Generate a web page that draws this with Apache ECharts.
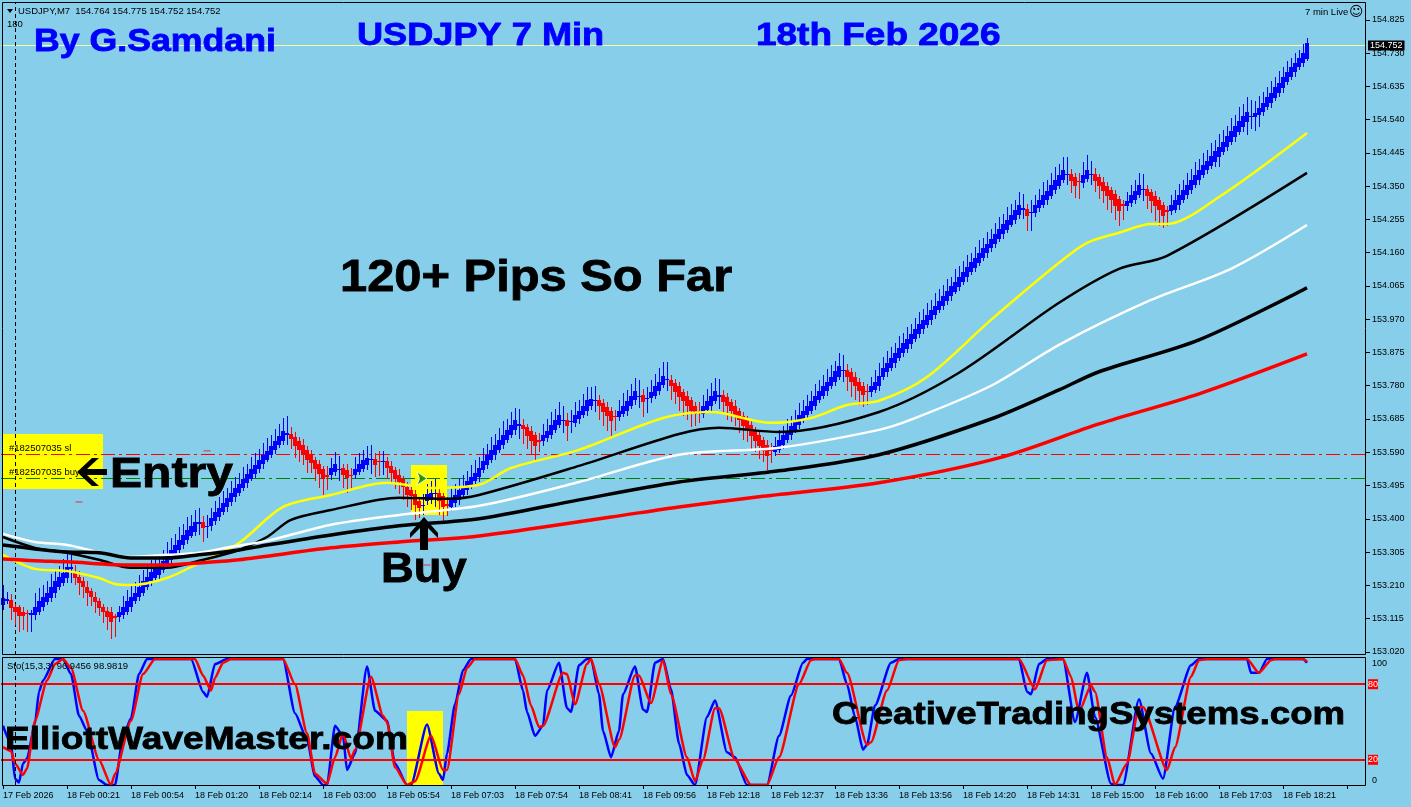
<!DOCTYPE html>
<html>
  <head>
    <meta charset="utf-8">
    <title>USDJPY 7 Min</title>
    <style type="text/css">
    html,body{margin:0;padding:0;background:#87CEEB;}
    #chart{width:1411px;height:807px;}
    </style>
    <script src="https://cdn.jsdelivr.net/npm/echarts@6/dist/echarts.min.js"></script>
  </head>
  <body>
    <div id="chart"></div>
    <script type="text/javascript">
    // all prices below are points above 153.000 (1752 = 154.752)
    var opens = [
      154,166,168,149,149,135,130,125,126,135,
      149,161,173,187,205,218,230,257,246,233,
      221,206,195,178,164,149,137,135,121,119,
      126,135,149,164,176,189,205,221,230,240,
      254,268,283,297,311,325,339,352,362,386,
      390,376,380,393,406,420,433,447,461,474,
      488,501,515,529,542,556,569,583,597,610,
      622,640,643,635,623,611,597,583,569,557,
      542,526,526,535,538,545,538,525,526,535,
      542,554,569,571,565,562,564,551,538,526,
      513,492,483,471,450,436,452,455,470,473,
      464,443,435,445,454,469,481,494,507,519,
      540,554,568,583,597,611,625,640,654,666,
      668,662,652,640,625,621,630,640,654,668,
      680,683,676,673,684,697,709,722,736,740,
      730,719,709,694,690,700,709,723,738,749,
      754,741,744,751,766,781,795,797,789,778,
      763,751,738,723,709,700,711,723,737,749,
      754,747,733,723,709,694,683,668,654,640,
      625,611,597,592,597,611,625,640,654,668,
      683,697,709,723,738,751,766,778,792,806,
      821,825,818,804,792,778,765,761,768,778,
      804,818,832,845,859,873,886,900,913,927,
      941,954,968,981,995,1009,1022,1036,1049,1063,
      1077,1090,1104,1117,1131,1145,1158,1172,1185,1199,
      1213,1226,1240,1253,1267,1283,1284,1273,1274,1287,
      1296,1310,1322,1339,1350,1368,1382,1385,1377,1364,
      1360,1371,1382,1385,1375,1363,1350,1339,1328,1313,
      1299,1293,1301,1310,1325,1338,1341,1332,1322,1310,
      1296,1281,1280,1282,1296,1310,1325,1339,1353,1368,
      1382,1396,1408,1420,1434,1448,1463,1477,1491,1506,
      1518,1534,1548,1547,1553,1563,1577,1588,1601,1615,
      1629,1648,1663,1677,1689,1701,1714
    ];
    var closes = [
      173,170,145,135,121,123,127,132,149,164,
      176,189,205,221,233,246,262,261,230,216,
      205,189,176,161,145,135,119,106,116,135,
      149,164,178,189,205,221,235,248,259,266,
      280,297,311,325,339,354,368,380,390,390,
      373,380,403,419,432,446,459,473,487,500,
      514,527,541,555,568,582,595,609,623,636,
      650,644,628,609,597,583,569,559,542,529,
      513,519,545,556,542,526,516,521,543,557,
      567,573,572,554,562,565,545,532,513,504,
      491,469,464,440,431,440,470,473,473,450,
      435,437,456,469,483,494,507,519,532,545,
      566,583,597,611,625,640,654,668,683,670,
      657,637,623,608,620,640,652,668,683,697,
      683,665,680,697,709,723,738,743,740,721,
      706,694,680,690,709,723,737,751,765,752,
      735,745,763,778,792,808,799,778,763,749,
      737,723,709,700,704,723,737,751,765,754,
      733,721,709,694,681,666,654,637,623,608,
      595,580,593,609,625,640,652,665,683,697,
      709,723,737,751,765,778,792,806,822,837,
      825,806,792,778,766,754,762,778,792,808,
      832,846,860,873,887,901,914,928,941,955,
      969,982,996,1009,1023,1037,1050,1064,1077,1091,
      1105,1118,1132,1145,1159,1173,1186,1200,1213,1227,
      1241,1254,1268,1281,1295,1287,1265,1276,1296,1310,
      1325,1337,1353,1368,1382,1396,1385,1366,1350,1361,
      1382,1396,1385,1366,1350,1337,1323,1310,1294,1280,
      1293,1308,1325,1337,1353,1341,1323,1308,1294,1282,
      1266,1277,1296,1310,1325,1339,1353,1368,1382,1396,
      1410,1423,1436,1451,1463,1477,1493,1508,1522,1537,
      1550,1561,1550,1558,1572,1588,1604,1617,1632,1646,
      1663,1677,1689,1703,1715,1729,1760
    ];
    // wick length above / below the body
    var upperWicks = [
      38,20,17,8,5,14,10,8,38,38,
      36,34,36,35,33,38,40,45,22,18,
      12,15,8,14,10,8,10,12,8,15,
      30,32,30,30,34,32,30,34,32,30,
      32,36,34,32,38,30,36,32,36,40,
      18,30,28,32,30,34,30,36,32,30,
      34,30,36,32,30,34,36,30,34,36,
      38,50,20,14,12,16,10,14,8,12,
      10,25,30,34,36,12,18,20,34,32,
      30,36,40,16,28,30,12,14,10,16,
      10,12,8,10,8,30,30,34,40,14,
      10,20,32,30,34,32,30,34,36,32,
      36,32,36,30,34,38,32,36,34,44,
      16,10,12,8,20,30,34,36,32,38,
      40,18,30,36,30,34,38,32,40,14,
      12,16,10,18,30,36,32,34,38,44,
      16,30,32,36,38,40,50,14,10,12,
      8,14,10,12,25,30,34,36,38,44,
      14,12,10,16,8,12,10,14,8,12,
      10,14,20,25,30,26,32,30,28,34,
      30,32,28,34,30,32,36,34,30,36,
      44,18,12,14,10,12,20,26,32,36,
      30,34,32,28,36,30,34,28,32,36,
      30,34,28,36,32,30,34,28,36,32,
      30,34,28,32,36,30,34,28,32,36,
      30,36,32,30,38,40,16,34,30,32,
      36,30,34,38,32,36,48,14,12,24,
      38,42,36,16,10,14,12,8,12,10,
      12,24,28,32,34,44,12,10,14,8,
      10,12,28,30,32,28,34,30,36,32,
      34,30,38,32,36,34,30,36,32,38,
      34,44,46,34,36,32,28,34,30,32,
      28,30,26,28,24,26,14
    ];
    var lowerWicks = [
      15,10,34,38,45,40,50,48,14,10,
      12,8,10,12,8,10,14,40,20,34,
      32,38,26,30,24,34,36,50,54,14,
      12,10,14,8,12,10,8,12,10,14,
      10,12,8,10,14,10,12,8,10,32,
      40,30,14,10,12,8,14,10,12,8,
      10,14,8,12,10,14,8,10,12,8,
      10,30,30,34,36,30,38,28,34,40,
      46,36,14,12,30,38,42,40,12,10,
      8,14,40,36,40,38,30,34,28,32,
      36,34,40,44,30,26,14,12,36,40,
      46,30,12,10,14,8,12,10,8,14,
      10,12,8,14,10,12,8,10,14,38,
      44,38,42,40,30,14,10,12,8,10,
      34,44,30,10,12,8,14,10,30,40,
      42,44,48,38,12,10,14,8,12,32,
      44,40,14,10,12,8,30,40,36,42,
      44,40,46,34,30,12,10,14,8,36,
      34,38,32,30,36,40,34,38,32,36,
      34,40,34,14,10,12,8,14,10,12,
      8,14,10,12,8,10,14,8,12,10,
      30,40,44,38,42,34,36,12,10,14,
      8,12,10,14,8,10,12,14,8,10,
      12,8,14,10,8,12,10,14,8,12,
      10,14,8,12,10,8,14,10,12,8,
      14,10,8,12,10,26,42,50,12,10,
      8,14,10,12,8,10,30,36,34,48,
      14,10,30,34,38,36,40,36,42,44,
      40,14,10,12,8,30,38,36,44,46,
      36,40,12,10,14,8,12,10,8,14,
      10,12,8,14,30,10,12,8,14,10,
      12,38,36,40,34,12,10,14,8,10,
      12,8,10,14,8,10,6
    ];

    // moving averages, [bar, points]
    var yellowMa = [[0,297],[8,257],[16,251],[24,231],[28,214],[32,211],[41,231],[49,274],[59,331],[70,434],[82,468],[96,503],[107,488],[119,497],[127,545],[144,597],[165,688],[177,705],[192,674],[202,688],[211,725],[219,737],[231,805],[247,968],[264,1131],[271,1188],[279,1217],[287,1242],[291,1242],[304,1319],[326,1502]];
    var thinBlackMa = [[0,348],[8,317],[16,303],[24,283],[32,260],[41,260],[49,280],[59,311],[66,348],[72,397],[82,425],[99,460],[111,457],[119,468],[144,551],[169,642],[179,660],[194,648],[219,705],[239,817],[264,1017],[279,1114],[291,1151],[326,1388]];
    var whiteMa = [[0,357],[8,334],[16,325],[24,305],[32,291],[41,297],[49,303],[57,320],[66,337],[82,383],[99,411],[119,437],[144,505],[169,583],[194,603],[219,654],[227,683],[247,780],[264,897],[287,1025],[307,1114],[326,1239]];
    var thickBlackMa = [[0,325],[8,314],[16,305],[24,303],[32,288],[41,288],[49,297],[59,311],[66,325],[82,354],[99,380],[119,400],[144,454],[169,505],[194,537],[219,583],[247,685],[264,768],[274,820],[299,911],[326,1060]];
    var redMa = [[0,285],[8,280],[16,277],[32,268],[41,268],[49,274],[59,283],[82,317],[99,334],[119,351],[152,405],[169,434],[189,463],[219,503],[249,574],[274,671],[299,757],[326,871]];

    // stochastic, [bar, value]
    var stochMain = [[0,47],[2,33],[3,5],[4,2],[5,17],[6,21],[8,49],[9,74],[10,83],[13,100],[15,100],[17,88],[19,55],[21,43],[24,4],[26,0],[28,0],[30,38],[32,53],[34,88],[36,100],[47,100],[50,74],[51,70],[53,96],[56,100],[70,100],[73,57],[76,36],[78,7],[80,0],[81,0],[83,47],[85,39],[86,12],[88,25],[91,94],[93,59],[96,51],[98,17],[101,0],[102,0],[106,48],[109,9],[110,4],[111,25],[113,64],[115,91],[117,100],[128,100],[130,75],[131,58],[133,39],[135,47],[136,75],[139,97],[141,61],[142,58],[144,95],[146,100],[147,100],[149,72],[150,43],[152,22],[154,43],[155,72],[158,94],[160,60],[161,58],[163,97],[165,100],[167,76],[169,33],[171,8],[173,0],[176,54],[178,67],[181,26],[183,22],[186,0],[191,0],[194,39],[197,71],[200,97],[201,100],[209,100],[211,80],[213,54],[215,28],[216,32],[218,63],[222,97],[224,100],[254,100],[256,74],[257,72],[259,96],[261,100],[265,100],[268,50],[271,89],[273,54],[277,1],[278,0],[280,0],[284,68],[287,25],[290,5],[293,62],[297,95],[299,100],[311,100],[312,89],[314,89],[316,100],[325,100],[326,97]];
    var stochSignal = [[0,30],[2,27],[3,17],[5,8],[6,13],[8,51],[11,83],[13,96],[15,100],[17,93],[20,59],[24,20],[27,0],[28,9],[32,51],[35,88],[38,100],[48,100],[50,87],[52,75],[53,85],[55,97],[57,100],[70,100],[73,80],[76,41],[78,9],[81,1],[83,22],[85,41],[87,21],[88,28],[92,86],[95,55],[96,50],[98,14],[101,0],[103,3],[107,39],[110,12],[111,12],[114,72],[116,93],[118,100],[128,100],[130,87],[132,63],[134,46],[135,47],[140,89],[141,88],[143,64],[146,96],[147,100],[149,80],[153,30],[154,36],[158,87],[159,87],[162,65],[165,99],[167,72],[171,22],[173,3],[175,20],[178,61],[179,61],[183,20],[187,0],[191,0],[194,22],[199,80],[202,99],[203,100],[209,100],[211,89],[216,32],[217,34],[221,75],[224,99],[226,100],[254,100],[258,76],[261,99],[265,100],[267,86],[269,58],[272,79],[273,74],[276,22],[278,0],[281,17],[284,62],[285,62],[291,12],[293,30],[297,86],[299,99],[301,100],[311,100],[314,89],[317,99],[318,100],[325,100],[326,98]];

    var priceTicks = [154.825,154.73,154.635,154.54,154.445,154.35,154.255,154.16,154.065,153.97,153.875,153.78,153.685,153.59,153.495,153.4,153.305,153.21,153.115,153.02];
    var timeLabels = ['17 Feb 2026','18 Feb 00:21','18 Feb 00:54','18 Feb 01:20','18 Feb 02:14','18 Feb 03:00','18 Feb 05:54','18 Feb 07:03','18 Feb 07:54','18 Feb 08:41','18 Feb 09:56','18 Feb 12:18','18 Feb 12:37','18 Feb 13:36','18 Feb 13:56','18 Feb 14:20','18 Feb 14:31','18 Feb 15:00','18 Feb 16:00','18 Feb 17:03','18 Feb 18:21'];
    var stopMarks = [[19,448],[51,594],[106,268]];
    var buyMark = [[106,515]];
    var lastPrice = 1752, stopLevel = 584, entryLevel = 515;
    var separatorBar = 3;

    function toPrice(p){ return 153 + p / 1000; }
    function toPriceList(list){ return list.map(function(d){ return [d[0], toPrice(d[1])]; }); }

    var FONT = '"Liberation Sans"';
    var categories = [];
    for (var i = 0; i < 341; i++) {
      categories.push(i % 16 === 0 && timeLabels[i / 16] ? timeLabels[i / 16] : '');
    }
    var candles = opens.map(function(o, i){
      var c = closes[i];
      return [i, toPrice(o), toPrice(c), toPrice(Math.min(o, c) - lowerWicks[i]), toPrice(Math.max(o, c) + upperWicks[i])];
    });

    // bars are drawn crisp on whole pixels like the platform does
    function renderBar(params, api){
      var bar = api.value(0), open = api.value(1), close = api.value(2);
      var color = close >= open ? '#0000FF' : '#FF0000';
      var x = Math.round(api.coord([bar, open])[0]);
      var yOpen = Math.round(api.coord([bar, open])[1]);
      var yClose = Math.round(api.coord([bar, close])[1]);
      var yLow = Math.round(api.coord([bar, api.value(3)])[1]);
      var yHigh = Math.round(api.coord([bar, api.value(4)])[1]);
      var top = Math.min(yOpen, yClose);
      return {type:'group', children:[
        {type:'rect', shape:{x:x, y:yHigh, width:1, height:yLow - yHigh}, style:{fill:color}},
        {type:'rect', shape:{x:x - 2, y:top, width:4, height:Math.max(Math.abs(yOpen - yClose), 1)}, style:{fill:color}}
      ]};
    }
    function maLine(name, data, color, width){
      return {name:name, type:'line', data:toPriceList(data), xAxisIndex:0, yAxisIndex:0, showSymbol:false, silent:true, z:3,
        smooth:0.3, lineStyle:{color:color, width:width}};
    }
    // the pasted captions are a stretched bold face, so scale them sideways
    function bigText(text, x, y, size, stretch, color){
      return {type:'text', x:x, y:y, scaleX:stretch, z:100, silent:true,
        style:{text:text, fill:color, stroke:color, lineWidth:0.8, font:'bold ' + size + 'px ' + FONT, verticalAlign:'middle'}};
    }
    function smallText(text, x, y, color){
      return {type:'text', x:x, y:y, z:100, silent:true,
        style:{text:text, fill:color || '#000', font:'9.5px ' + FONT, verticalAlign:'middle'}};
    }
    function box(x, y, w, h){
      return {type:'rect', z:0, silent:true, shape:{x:x, y:y, width:w, height:h}, style:{fill:'#FFFF00'}};
    }
    function poly(points){
      return {type:'polygon', z:100, silent:true, shape:{points:points}, style:{fill:'#000'}};
    }

    var chart = echarts.init(document.getElementById('chart'));
    chart.setOption({
      animation:false,
      backgroundColor:'#87CEEB',
      grid:[
        {left:1, top:2, width:1364, height:653},
        {left:1, top:659, width:1364, height:126}
      ],
      xAxis:[
        {type:'category', gridIndex:0, data:categories, show:false},
        {type:'category', gridIndex:1, data:categories,
          axisLine:{show:false},
          axisTick:{show:true, length:4, lineStyle:{color:'#000'}, alignWithLabel:true, interval:function(i){ return i % 16 === 0; }},
          axisLabel:{color:'#000', fontFamily:FONT, fontSize:9, align:'left', margin:6, hideOverlap:false, interval:function(i){ return i % 16 === 0; }}}
      ],
      yAxis:[
        {type:'value', gridIndex:0, position:'right', offset:1, min:toPrice(11), max:toPrice(1876), splitLine:{show:false},
          axisLine:{show:false},
          axisTick:{show:true, length:4, lineStyle:{color:'#000'}, customValues:priceTicks},
          axisLabel:{color:'#000', fontFamily:FONT, fontSize:9, margin:6, customValues:priceTicks,
            formatter:function(v){ return v.toFixed(3); }}},
        {type:'value', gridIndex:1, position:'right', offset:1, min:0, max:100, splitLine:{show:false},
          axisLine:{show:false}, axisTick:{show:false},
          axisLabel:{color:'#000', fontFamily:FONT, fontSize:9, margin:6, customValues:[0,100],
            verticalAlignMinLabel:'bottom', verticalAlignMaxLabel:'top'}}
      ],
      series:[
        {name:'USDJPY', type:'custom', xAxisIndex:0, yAxisIndex:0, data:candles, renderItem:renderBar, silent:true, z:2,
          encode:{x:0, y:[1,2,3,4]},
          markLine:{silent:true, symbol:'none', animation:false, precision:3, z:1,
            data:[
              {yAxis:toPrice(lastPrice), lineStyle:{color:'#F6FF9E', width:1, type:'solid'},
                label:{show:true, position:'end', formatter:toPrice(lastPrice).toFixed(3), color:'#fff', backgroundColor:'#000',
                  fontFamily:FONT, fontSize:9, padding:[1,2,0,2], distance:3}},
              {yAxis:toPrice(stopLevel), lineStyle:{color:'#FF0000', width:1, type:[14,4,3,4]}, label:{show:false}},
              {yAxis:toPrice(entryLevel), lineStyle:{color:'#008000', width:1, type:[14,4,3,4]}, label:{show:false}},
              {xAxis:separatorBar, lineStyle:{color:'#000', width:1, type:[4,3]}, label:{show:false}}
            ]}},
        maLine('MA1', yellowMa, '#FFFF00', 2.5),
        maLine('MA2', thinBlackMa, '#000', 2.5),
        maLine('MA3', whiteMa, '#FFFFFF', 2.5),
        maLine('MA4', thickBlackMa, '#000', 3.5),
        maLine('MA5', redMa, '#FF0000', 3.5),
        {name:'stops', type:'scatter', xAxisIndex:0, yAxisIndex:0, data:toPriceList(stopMarks), symbol:'rect', symbolSize:[7,1], silent:true,
          itemStyle:{color:'#FF0000'}},
        {name:'buy', type:'scatter', xAxisIndex:0, yAxisIndex:0, data:toPriceList(buyMark), symbol:'arrow', symbolRotate:-90, symbolSize:10, silent:true, z:4,
          itemStyle:{color:'#008000', borderColor:'#fff', borderWidth:1}},
        {name:'Main', type:'line', xAxisIndex:1, yAxisIndex:1, data:stochMain, showSymbol:false, silent:true, z:3,
          smooth:0.2, smoothMonotone:'x', lineStyle:{color:'#0000FF', width:2.5},
          markLine:{silent:true, symbol:'none', animation:false, precision:3,
            data:[
              {yAxis:80, lineStyle:{color:'#FF0000', width:2, type:'solid'},
                label:{show:true, position:'end', formatter:'80', color:'#fff', backgroundColor:'#FF0000', fontFamily:FONT, fontSize:9, padding:[1,0,0,0], distance:3}},
              {yAxis:20, lineStyle:{color:'#FF0000', width:2, type:'solid'},
                label:{show:true, position:'end', formatter:'20', color:'#fff', backgroundColor:'#FF0000', fontFamily:FONT, fontSize:9, padding:[1,0,0,0], distance:3}},
              {xAxis:separatorBar, lineStyle:{color:'#000', width:1, type:[4,3]}, label:{show:false}}
            ]}},
        {name:'Signal', type:'line', xAxisIndex:1, yAxisIndex:1, data:stochSignal, showSymbol:false, silent:true, z:4,
          smooth:0.2, smoothMonotone:'x', lineStyle:{color:'#FF0000', width:2.5}}
      ],
      graphic:[
        // yellow highlight boxes sit behind the marks
        box(2, 434, 101, 55),
        box(411, 465, 36, 50),
        box(407, 711, 36, 75),
        // chart frame
        {type:'rect', z:90, silent:true, shape:{x:2.5, y:2.5, width:1363, height:652}, style:{fill:'none', stroke:'#000', lineWidth:1}},
        {type:'rect', z:90, silent:true, shape:{x:2.5, y:657.5, width:1363, height:128}, style:{fill:'none', stroke:'#000', lineWidth:1}},
        {type:'polygon', z:100, silent:true, shape:{points:[[7,9],[13,9],[10,13]]}, style:{fill:'#000'}},
        smallText('USDJPY,M7  154.764 154.775 154.752 154.752', 18, 11),
        smallText('180', 7, 24),
        smallText('7 min Live', 1305, 12),
        {type:'text', x:1349, y:12, z:100, silent:true, style:{text:'\u263A', fill:'#000', font:'14px "DejaVu Sans"', verticalAlign:'middle'}},
        smallText('#182507035 sl', 9, 448),
        smallText('#182507035 buy', 9, 472),
        smallText('Sto(15,3,3) 96.9456 98.9819', 7, 666),
        bigText('By G.Samdani', 34, 42, 32, 1.115, '#0000FF'),
        bigText('USDJPY 7 Min', 357, 36, 32, 1.13, '#0000FF'),
        bigText('18th Feb 2026', 756, 36, 32, 1.155, '#0000FF'),
        bigText('120+ Pips So Far', 340, 279, 44, 1.11, '#000'),
        bigText('Entry', 110, 475, 42, 1.145, '#000'),
        bigText('Buy', 381, 570, 42, 1.08, '#000'),
        bigText('ElliottWaveMaster.com', 5, 740, 32, 1.16, '#000'),
        bigText('CreativeTradingSystems.com', 832, 715, 32, 1.145, '#000'),
        poly([[77,472],[92,458],[99,458],[87,469],[107,469],[107,475],[87,475],[99,486],[92,486]]),
        poly([[424,517],[438,533],[438,538],[428,528],[428,550],[420,550],[420,528],[410,538],[410,533]])
      ]
    });
    </script>
  </body>
</html>
